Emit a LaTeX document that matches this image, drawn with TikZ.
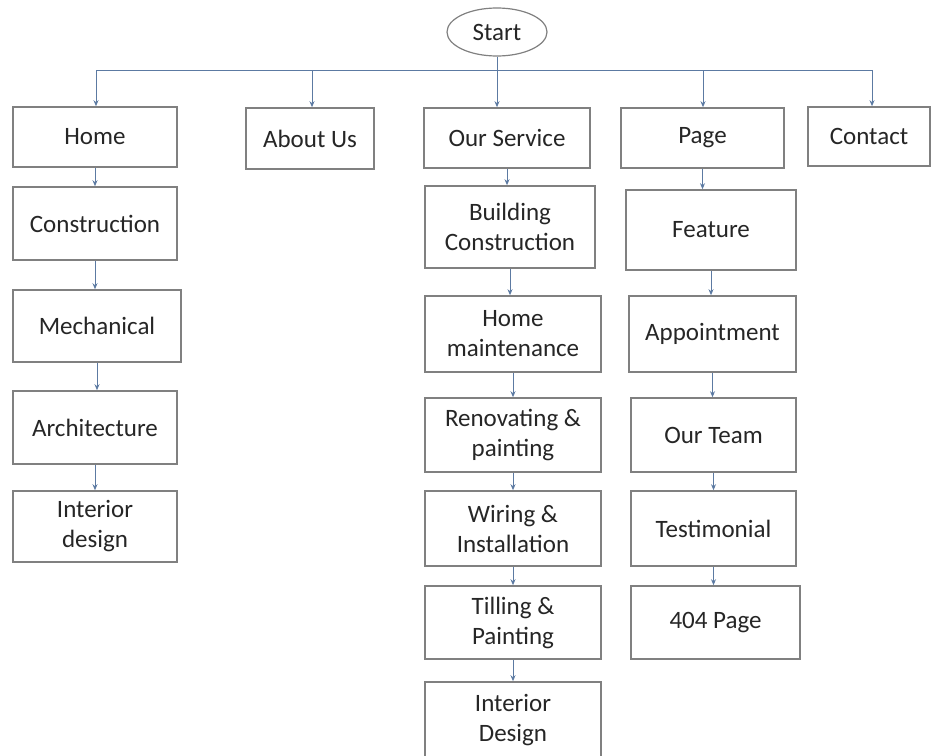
\documentclass[tikz,border=0pt]{standalone}
\usepackage{fontspec}
\setmainfont{Carlito}
\usepackage{tikz}
\usetikzlibrary{arrows.meta, positioning, shapes.geometric}
\definecolor{boxgray}{RGB}{128,128,128}
\definecolor{linkblue}{RGB}{92,122,162}
\definecolor{txtgray}{RGB}{38,38,38}

\begin{document}
\begin{tikzpicture}[x=1pt, y=-1pt,
    page/.style={draw=boxgray, line width=1.6pt, fill=white, text=txtgray,
        align=center, inner sep=2pt,
        font=\fontsize{25}{30}\selectfont},
    link/.style={-{Stealth[length=6pt, width=5pt]}, linkblue, line width=1pt}]
    \useasboundingbox (0,0) rectangle (941,755);

    % Start
    \node[ellipse, draw=boxgray, line width=1.2pt, minimum width=100pt,
        minimum height=48pt, inner sep=0pt, text=txtgray,
        font=\fontsize{25}{30}\selectfont] (start) at (497,32) {Start};

    % Top menu
    \node[page, minimum width=164pt, minimum height=60pt] (home) at (95,137) {Home};
    \node[page, minimum width=128pt, minimum height=61pt] (about) at (310,138.5) {About Us};
    \node[page, minimum width=166pt, minimum height=60pt] (svc) at (507,138) {Our Service};
    \node[page, minimum width=163pt, minimum height=60pt] (pg) at (702.5,138) {Page};
    \node[page, minimum width=122pt, minimum height=59pt] (contact) at (869,136.5) {Contact};

    % Home column
    \node[page, minimum width=164pt, minimum height=73pt] (hconst) at (95,223.5) {Construction};
    \node[page, minimum width=168pt, minimum height=72pt] (mech) at (97,326) {Mechanical};
    \node[page, minimum width=164pt, minimum height=73pt] (arch) at (95,427.5) {Architecture};
    \node[page, minimum width=164pt, minimum height=71pt] (hint) at (95,526.5) {Interior\\design};

    % Our Service column
    \node[page, minimum width=170pt, minimum height=82pt] (build) at (510,227) {Building\\Construction};
    \node[page, minimum width=176pt, minimum height=76pt] (maint) at (513,334) {Home\\maintenance};
    \node[page, minimum width=176pt, minimum height=74pt] (renov) at (513,435) {Renovating \&\\painting};
    \node[page, minimum width=176pt, minimum height=75pt] (wire) at (513,528.5) {Wiring \&\\Installation};
    \node[page, minimum width=176pt, minimum height=73pt] (till) at (513,622.5) {Tilling \&\\Painting};
    \node[page, minimum width=176pt, minimum height=76pt] (sint) at (513,720) {Interior\\Design};

    % Page column
    \node[page, minimum width=170pt, minimum height=80pt] (feat) at (711,230) {Feature};
    \node[page, minimum width=167pt, minimum height=76pt] (appt) at (712.5,334) {Appointment};
    \node[page, minimum width=165pt, minimum height=74pt] (team) at (713.5,435) {Our Team};
    \node[page, minimum width=165pt, minimum height=75pt] (testi) at (713.5,528.5) {Testimonial};
    \node[page, minimum width=169pt, minimum height=73pt] (p404) at (715.5,622.5) {404 Page};

    % Bus from Start
    \coordinate (busL) at (96,70);
    \coordinate (busR) at (872,70);
    \draw[linkblue, line width=1pt] (busL) -- (busR);
    \draw[link] (busL) -- (busL |- home.north);
    \draw[link] (312,70) -- (312,0 |- about.north);
    \draw[link] (start.south) -- (start.south |- svc.north);
    \draw[link] (703,70) -- (703,0 |- pg.north);
    \draw[link] (busR) -- (busR |- contact.north);

    % Links inside columns
    \foreach \a/\b in {home/hconst, hconst/mech, mech/arch, arch/hint,
        svc/build, build/maint, maint/renov, renov/wire, wire/till, till/sint,
        pg/feat, feat/appt, appt/team, team/testi, testi/p404}
        \draw[link] (\a.south) -- (\a.south |- \b.north);
\end{tikzpicture}
\end{document}
